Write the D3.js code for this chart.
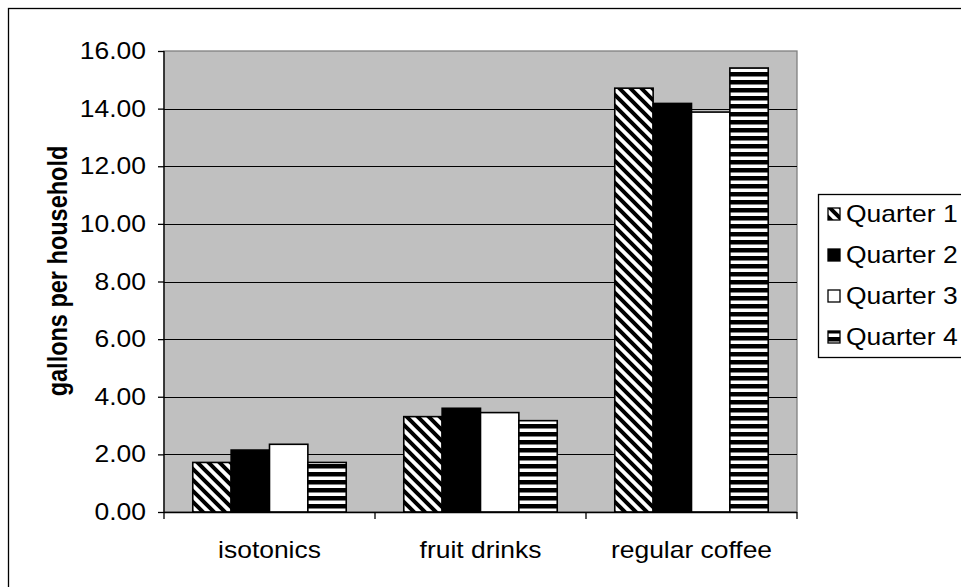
<!DOCTYPE html>
<html><head><meta charset="utf-8">
<script src="https://cdn.jsdelivr.net/npm/d3@7"></script>
<style>html,body{margin:0;padding:0;background:#fff;overflow:hidden}</style>
</head><body>
<svg id="c" width="961" height="587"></svg>
<script>
const categories = ["isotonics", "fruit drinks", "regular coffee"];
const seriesNames = ["Quarter 1", "Quarter 2", "Quarter 3", "Quarter 4"];
const quarter1 = [1.72, 3.31, 14.71];
const quarter2 = [2.15, 3.60, 14.18];
const quarter3 = [2.35, 3.45, 13.88];
const quarter4 = [1.72, 3.17, 15.41];
const yTicks = [0, 2, 4, 6, 8, 10, 12, 14, 16];
const seriesValues = [quarter1, quarter2, quarter3, quarter4];

const svg = d3.select("#c");
const font = "Arial, 'Liberation Sans', sans-serif";
const fs = 23;
const sx = 1.15;

function addText(parent, x, y, txt, anchor, opts = {}) {
  const t = parent.append("text")
    .attr("transform", `translate(${x},${y}) scale(${sx},1)` + (opts.rotate ? ` rotate(${opts.rotate})` : ""))
    .attr("text-anchor", anchor).attr("dy", "0.35em")
    .attr("font-family", font).attr("font-size", fs).attr("fill", "#000").text(txt);
  if (opts.bold) t.attr("font-weight", "bold");
  return t;
}

// patterns
const defs = svg.append("defs");
const pDiag = defs.append("pattern").attr("id", "pDiag").attr("patternUnits", "userSpaceOnUse")
  .attr("width", 11).attr("height", 11);
pDiag.append("rect").attr("width", 11).attr("height", 11).attr("fill", "#fff");
pDiag.append("path").attr("d", "M-5.5,-5.5 L16.5,16.5 M-5.5,5.5 L5.5,16.5 M5.5,-5.5 L16.5,5.5")
  .attr("stroke", "#000").attr("stroke-width", 4);
const pHor = defs.append("pattern").attr("id", "pHor").attr("patternUnits", "userSpaceOnUse")
  .attr("width", 8).attr("height", 8);
pHor.append("rect").attr("width", 8).attr("height", 8).attr("fill", "#fff");
pHor.append("rect").attr("y", 0).attr("width", 8).attr("height", 4.5).attr("fill", "#000");
const fills = ["url(#pDiag)", "#000", "#fff", "url(#pHor)"];

// outer frame (extends beyond viewport)
svg.append("rect").attr("x", 8.5).attr("y", 8.5).attr("width", 1100).attr("height", 1100)
  .attr("fill", "#fff").attr("stroke", "#000").attr("stroke-width", 1.3);

const L = 164, R = 797, T = 51, B = 512;
const x0 = d3.scaleBand().domain(categories).range([L, R]).paddingInner(0).paddingOuter(0);
// group of 4 bars with a gap of 1.5 bar widths => outer padding 0.75 bar each side
const x1 = d3.scaleBand().domain(seriesNames).range([0, x0.bandwidth()]).paddingInner(0).paddingOuter(0.75);
const y = d3.scaleLinear().domain([0, 16]).range([B, T]);

// plot area
svg.append("rect").attr("x", L).attr("y", T).attr("width", R - L).attr("height", B - T)
  .attr("fill", "#c0c0c0").attr("stroke", "#808080").attr("stroke-width", 1.3);

// gridlines
svg.append("g").selectAll("line").data(yTicks.filter(d => d > 0 && d < 16)).join("line")
  .attr("x1", L).attr("x2", R).attr("y1", d => Math.round(y(d)) + 0.5).attr("y2", d => Math.round(y(d)) + 0.5)
  .attr("stroke", "#000").attr("stroke-width", 1.2);

// bars
const groups = svg.append("g").selectAll("g").data(categories).join("g")
  .attr("transform", c => `translate(${x0(c)},0)`);
groups.selectAll("rect").data((c, i) => seriesNames.map((s, j) => ({s, j, v: seriesValues[j][i]}))).join("rect")
  .attr("x", d => x1(d.s)).attr("width", x1.bandwidth())
  .attr("y", d => y(d.v)).attr("height", d => B - y(d.v))
  .attr("fill", d => fills[d.j]).attr("stroke", "#000").attr("stroke-width", 1.6);

// y axis
const yAxis = d3.axisLeft(y).tickValues(yTicks).tickSize(6).tickFormat("");
const gy = svg.append("g").attr("transform", `translate(${L},0)`).call(yAxis);
gy.select(".domain").attr("stroke", "#000").attr("stroke-width", 1.3).attr("d", `M0,${T}V${B}`);
gy.selectAll(".tick line").attr("stroke", "#000").attr("stroke-width", 1.3);
const fmt = d3.format(".2f");
const gyl = svg.append("g");
yTicks.forEach(v => addText(gyl, 146, y(v), fmt(v), "end"));

// x axis
const boundaries = [L, ...categories.map(c => x0(c) + x0.bandwidth())];
const gx = svg.append("g");
gx.append("line").attr("x1", L).attr("x2", R).attr("y1", B + 0.5).attr("y2", B + 0.5).attr("stroke", "#000").attr("stroke-width", 1.3);
gx.selectAll("line.t").data(boundaries).join("line").attr("class", "t")
  .attr("x1", d => d).attr("x2", d => d).attr("y1", B).attr("y2", B + 7).attr("stroke", "#000").attr("stroke-width", 1.3);
categories.forEach(c => addText(gx, x0(c) + x0.bandwidth() / 2, 550, c, "middle"));

// y title
svg.append("text").attr("transform", `translate(58,271) scale(${sx},1) rotate(-90)`)
  .attr("text-anchor", "middle").attr("dy", "0.35em").attr("font-family", font).attr("font-weight", "bold")
  .attr("font-size", 23.5).text("gallons per household");

// legend
const lg = svg.append("g");
lg.append("rect").attr("x", 818.5).attr("y", 194.5).attr("width", 200).attr("height", 163)
  .attr("fill", "#fff").attr("stroke", "#000").attr("stroke-width", 1.3);
const rowY = d3.scalePoint().domain(seriesNames).range([214, 337]);
const items = lg.selectAll("g").data(seriesNames).join("g").attr("transform", s => `translate(0,${rowY(s)})`);
items.append("rect").attr("x", 828).attr("y", -6).attr("width", 12).attr("height", 12)
  .attr("fill", (s, j) => fills[j]).attr("stroke", "#000").attr("stroke-width", 1.3);
items.each(function(s) { addText(d3.select(this), 846, 0, s, "start"); });
</script>
</body></html>
